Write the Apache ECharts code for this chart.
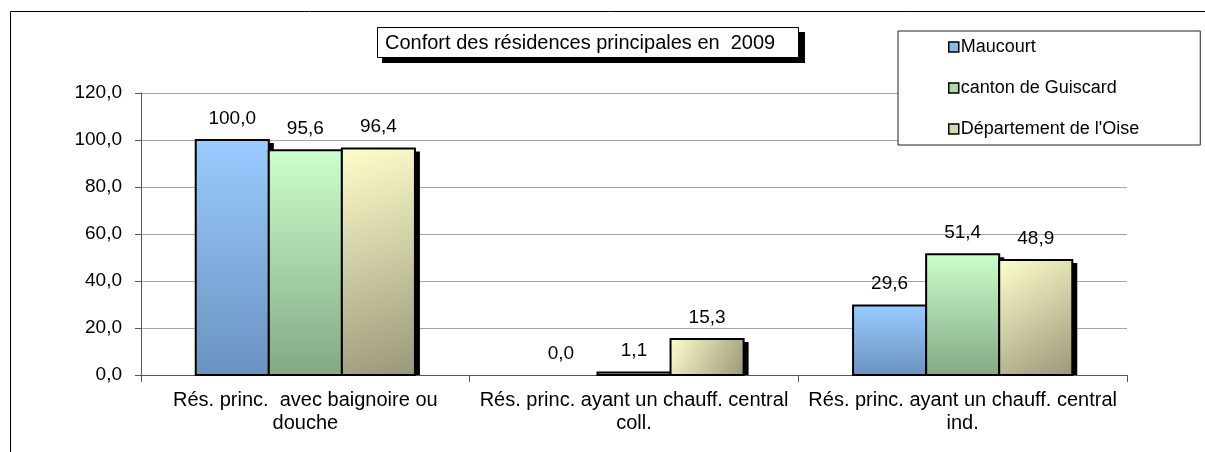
<!DOCTYPE html>
<html>
<head>
<meta charset="utf-8">
<script src="https://cdn.jsdelivr.net/npm/echarts@6/dist/echarts.min.js"></script>
<style>
  html, body { margin: 0; padding: 0; background: #fff; }
  #chart { width: 1205px; height: 452px; }
</style>
</head>
<body>
<div id="chart"></div>
<script>
var categories = [
  'Rés. princ.  avec baignoire ou\ndouche',
  'Rés. princ. ayant un chauff. central\ncoll.',
  'Rés. princ. ayant un chauff. central\nind.'
]
var seriesNames = ['Maucourt', 'canton de Guiscard', "Département de l'Oise"]
var maucourt = [100.0, 0.0, 29.6]
var canton = [95.6, 1.1, 51.4]
var oise = [96.4, 15.3, 48.9]

function fr(v) { return v.toFixed(1).replace('.', ',') }

var chart = echarts.init(document.getElementById('chart'))

function grad(c1, c2, diag) {
  return new echarts.graphic.LinearGradient(0, 0, diag ? 1 : 0, 1, [
    { offset: 0, color: c1 }, { offset: 1, color: c2 }
  ])
}

var fills = [
  grad('#99ccff', '#6b92c0', false),
  grad('#ccffcc', '#84a984', false),
  grad('#ffffcc', '#99977a', true)
]
var legendColors = ['#8fb8e8', '#a8dca8', '#d8d6aa']

// grouped bars with a hard black drop shadow (like the office chart)
function barRenderer(idx) {
  return function (params, api) {
    var val = api.value(1)
    var top = api.coord([api.value(0), val])
    var base = api.coord([api.value(0), 0])
    var band = api.size([1, 0])[0]
    var w = band * 0.667 / 3
    var x = top[0] - 1.5 * w + idx * w
    var h = base[1] - top[1]
    var children = []
    if (val > 0) {
      children.push({
        type: 'rect',
        shape: { x: x + 5, y: top[1] + 3, width: w, height: Math.max(h - 3, 0) },
        style: { fill: '#000' }
      })
      children.push({
        type: 'rect',
        shape: { x: x, y: top[1], width: w, height: h },
        style: { fill: fills[idx], stroke: '#000', lineWidth: 2 }
      })
    }
    children.push({
      type: 'text',
      x: x + w / 2,
      y: top[1] - 12,
      style: {
        text: fr(val),
        fill: '#000',
        fontFamily: 'Liberation Sans',
        fontSize: 19,
        align: 'center',
        verticalAlign: 'bottom'
      }
    })
    return { type: 'group', children: children }
  }
}

function makeSeries(name, data, i) {
  return {
    name: name,
    type: 'custom',
    renderItem: barRenderer(i),
    encode: { x: 0, y: 1 },
    itemStyle: { color: legendColors[i], borderColor: '#000', borderWidth: 1.5 },
    data: data.map(function (v, k) { return [k, v] })
  }
}

var option = {
  animation: false,
  backgroundColor: '#fff',
  color: legendColors,
  title: {
    text: 'Confort des résidences principales en  2009',
    left: 377,
    top: 27,
    padding: [6, 24, 5, 8],
    borderColor: '#000',
    borderWidth: 1,
    backgroundColor: '#fff',
    textStyle: {
      fontFamily: 'Liberation Sans',
      fontWeight: 'normal',
      fontSize: 20,
      color: '#000'
    }
  },
  legend: {
    orient: 'vertical',
    left: 898,
    top: 31,
    padding: [7, 61, 7, 50],
    itemGap: 23,
    itemWidth: 10,
    itemHeight: 10,
    icon: 'rect',
    borderColor: '#222',
    borderWidth: 1,
    backgroundColor: '#fff',
    itemStyle: { borderColor: '#000', borderWidth: 1.5 },
    textStyle: {
      fontFamily: 'Liberation Sans',
      fontSize: 18,
      color: '#000',
      padding: [0, 0, 0, -3]
    },
    data: seriesNames
  },
  grid: { left: 141, right: 78, top: 93, bottom: 77 },
  xAxis: {
    type: 'category',
    data: categories,
    axisLine: { lineStyle: { color: '#555', width: 1 } },
    axisTick: { show: true, length: 7, lineStyle: { color: '#555' } },
    axisLabel: {
      interval: 0,
      margin: 14,
      fontFamily: 'Liberation Sans',
      fontSize: 20,
      lineHeight: 23,
      color: '#000',
      align: 'center'
    }
  },
  yAxis: {
    type: 'value',
    min: 0,
    max: 120,
    interval: 20,
    axisLine: { show: true, lineStyle: { color: '#555', width: 1 } },
    axisTick: { show: true, length: 6, lineStyle: { color: '#555' } },
    splitLine: { lineStyle: { color: '#a6a6a6', width: 1 } },
    axisLabel: {
      formatter: fr,
      margin: 19,
      fontFamily: 'Liberation Sans',
      fontSize: 19,
      color: '#000'
    }
  },
  graphic: [
    {
      type: 'rect',
      shape: { x: 10.5, y: 11.5, width: 1220, height: 460 },
      style: { fill: null, stroke: '#000', lineWidth: 1 },
      silent: true
    },
    {
      // drop shadow behind the title box
      type: 'rect',
      z: 1,
      shape: { x: 382, y: 32, width: 423, height: 31 },
      style: { fill: '#000' },
      silent: true
    }
  ],
  series: [
    makeSeries(seriesNames[0], maucourt, 0),
    makeSeries(seriesNames[1], canton, 1),
    makeSeries(seriesNames[2], oise, 2)
  ]
}

chart.setOption(option)
</script>
</body>
</html>
